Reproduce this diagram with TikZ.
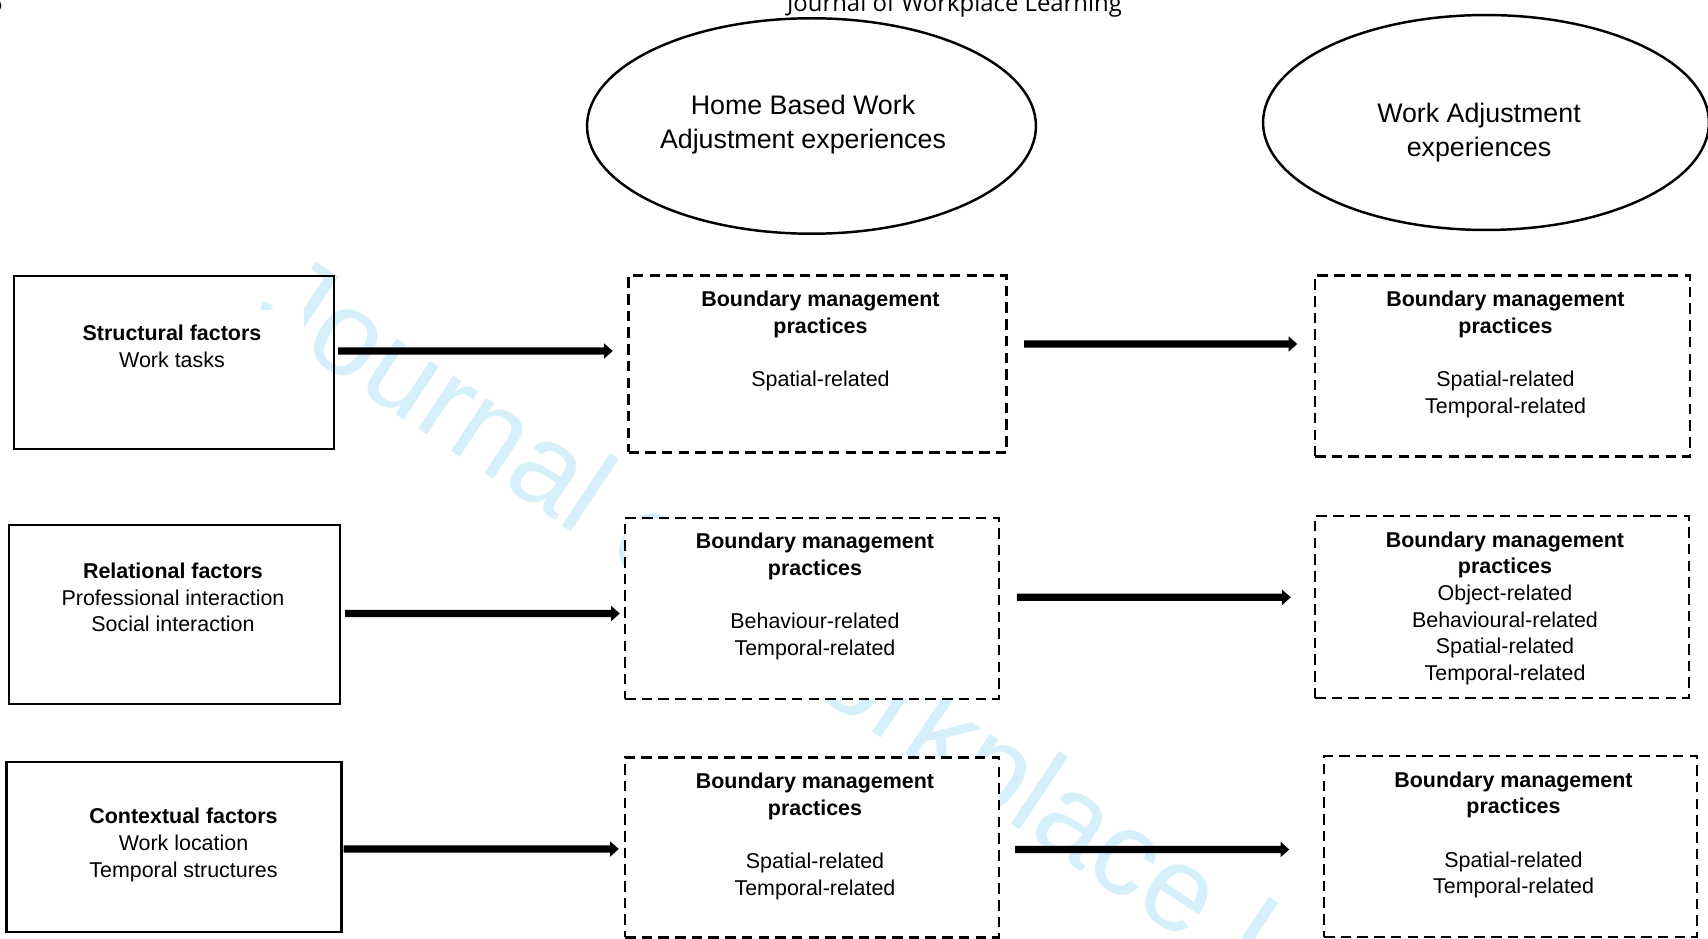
\documentclass[tikz,border=0pt]{standalone}
\usepackage{fontspec}
\setmainfont{Liberation Sans}
\newfontfamily\hdrfont{Open Sans}
\usetikzlibrary{positioning,shapes.geometric,arrows.meta}
\definecolor{wmblue}{RGB}{214,240,251}
\tikzset{
  ell/.style={draw,ellipse,line width=1.4pt,inner sep=0pt},
  elltxt/.style={align=center,font=\fontsize{15.25}{19.3}\selectfont},
  factor/.style={draw,line width=1.3pt},
  bmp/.style={draw,line width=1.4pt,dash pattern=on 6pt off 3.5pt,fill=white},
  txt/.style={align=center,font=\fontsize{12.2}{15.2}\selectfont},
  bmptxt/.style={txt,xshift=0.06cm},
  flow/.style={line width=4.2pt,-{Triangle[length=5pt,width=8.5pt]}},
  hdr/.style={inner sep=0pt,anchor=base,font=\hdrfont\fontsize{13.6}{16}\selectfont}
}

\begin{document}
\begin{tikzpicture}[x=0.02cm,y=-0.02cm]
\useasboundingbox (0,0) rectangle (1708,939);
\node[text=wmblue,inner sep=0pt,anchor=base west,rotate=-33.7,font=\fontsize{68.4}{80}\selectfont] (wm) at (250,317) {Journal of Workplace Learning};
\node[hdr] (head) at (954.5,12) {Journal of Workplace Learning};
\node[hdr,anchor=base east] (page) at (3,12) {6};

\node[ell,minimum width=8.98cm,minimum height=4.31cm] (hbw) at (811.5,126) {};
\node[ell,minimum width=8.92cm,minimum height=4.3cm] (wae) at (1486,122.5) {};
\node[elltxt] (hbwt) at (803,125) {Home Based Work\\Adjustment experiences};
\node[elltxt] (waet) at (1479,132.5) {Work Adjustment\\experiences};

\node[factor,minimum width=6.4cm,minimum height=3.46cm] (sf) at (174,362.5) {};
\node[factor,minimum width=6.62cm,minimum height=3.58cm] (rf) at (174.5,614.5) {};
\node[factor,minimum width=6.7cm,minimum height=3.4cm] (cf) at (174,847) {};
\node[txt,fill=white,minimum width=5.3cm,inner ysep=8.5pt] (sft) at (172,346) {\textbf{Structural factors}\\Work tasks};
\node[txt] (rft) at (173,597.5) {\textbf{Relational factors}\\Professional interaction\\Social interaction};
\node[txt] (cft) at (183.5,845) {\textbf{Contextual factors}\\Work location\\Temporal structures};

\node[bmp,minimum width=7.56cm,minimum height=3.54cm] (m1) at (817.5,364) {};
\node[bmp,minimum width=7.48cm,minimum height=3.62cm] (m2) at (812,608.3) {};
\node[bmp,minimum width=7.48cm,minimum height=3.6cm] (m3) at (812,847.3) {};
\node[bmp,minimum width=7.5cm,minimum height=3.62cm] (r1) at (1502.5,366) {};
\node[bmp,minimum width=7.48cm,minimum height=3.64cm] (r2) at (1502,607) {};
\node[bmp,minimum width=7.46cm,minimum height=3.62cm] (r3) at (1510.5,846.5) {};

\node[bmptxt,below=0.21cm of m1.north] (m1t) {\textbf{Boundary management}\\\textbf{practices}\\[15.2pt]Spatial-related};
\node[bmptxt,below=0.21cm of m2.north] (m2t) {\textbf{Boundary management}\\\textbf{practices}\\[15.2pt]Behaviour-related\\Temporal-related};
\node[bmptxt,below=0.21cm of m3.north] (m3t) {\textbf{Boundary management}\\\textbf{practices}\\[15.2pt]Spatial-related\\Temporal-related};
\node[bmptxt,below=0.21cm of r1.north] (r1t) {\textbf{Boundary management}\\\textbf{practices}\\[15.2pt]Spatial-related\\Temporal-related};
\node[bmptxt,below=0.21cm of r2.north] (r2t) {\textbf{Boundary management}\\\textbf{practices}\\Object-related\\Behavioural-related\\Spatial-related\\Temporal-related};
\node[bmptxt,below=0.21cm of r3.north] (r3t) {\textbf{Boundary management}\\\textbf{practices}\\[15.2pt]Spatial-related\\Temporal-related};

\draw[flow,shorten <=0.06cm,shorten >=0.29cm] ([yshift=0.23cm]sf.east) -- ([yshift=0.26cm]m1.west);
\draw[flow,shorten <=0.08cm,shorten >=0.08cm] ([yshift=0.02cm]rf.east) -- ([yshift=-0.104cm]m2.west);
\draw[flow,shorten <=0.02cm,shorten >=0.1cm] ([yshift=-0.04cm]cf.east) -- ([yshift=-0.034cm]m3.west);
\draw[flow,shorten <=0.33cm,shorten >=0.33cm] ([yshift=0.4cm]m1.east) -- ([yshift=0.44cm]r1.west);
\draw[flow,shorten <=0.334cm,shorten >=0.46cm] ([yshift=0.22cm]m2.east) -- ([yshift=0.194cm]r2.west);
\draw[flow,shorten <=0.3cm,shorten >=0.67cm] ([yshift=-0.044cm]m3.east) -- ([yshift=-0.06cm]r3.west);
\end{tikzpicture}
\end{document}
